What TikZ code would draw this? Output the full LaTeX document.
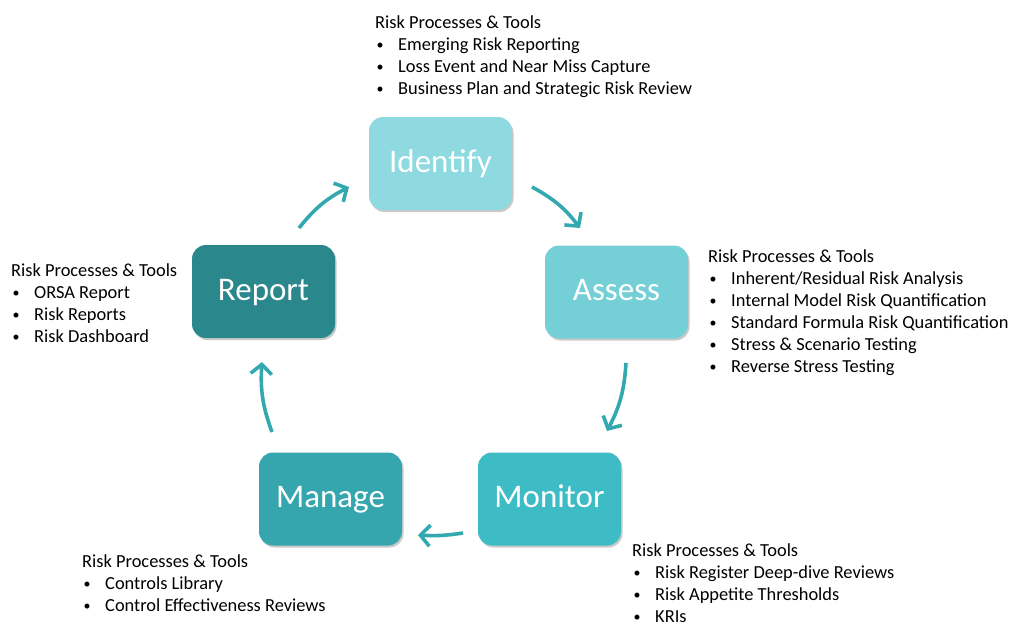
\documentclass[tikz,border=0pt]{standalone}
\usepackage{fontspec}
\setmainfont{Carlito}
\usetikzlibrary{arrows.meta,shadows,positioning}
\definecolor{cIdent}{HTML}{8FDAE0}
\definecolor{cAssess}{HTML}{74D0D6}
\definecolor{cMonitor}{HTML}{3DBCC6}
\definecolor{cManage}{HTML}{36A6AE}
\definecolor{cReport}{HTML}{2A878C}
\definecolor{cArrow}{HTML}{33A9AF}
\definecolor{cText}{HTML}{000000}
\newcommand{\bitem}[1]{\makebox[23pt][l]{\hspace{1.5pt}\raisebox{0.5pt}{\fontsize{14}{14}\selectfont •}}#1}
\tikzset{
  stagebox/.style={draw=none, rounded corners=14pt, minimum width=143pt, minimum height=93pt,
    text=white, font=\fontsize{33}{40}\selectfont, inner sep=0pt, text height=24pt, text depth=7pt,
    drop shadow={shadow xshift=1.5pt, shadow yshift=-2pt, opacity=0.35, fill=black!60}},
  infotext/.style={anchor=base west, inner sep=0pt, text=cText, font=\fontsize{18.4}{22}\selectfont},
  cyclearrow/.style={draw=cArrow, line width=3.6pt, bend left=12,
    -{Straight Barb[length=9.5pt, width=21pt, line width=3.6pt]}}
}
\begin{document}
\begin{tikzpicture}[x=1pt, y=-1pt]
\useasboundingbox (0,0) rectangle (1013,622);
% boxes
\node[stagebox, fill=cIdent]   (identify) at (440.5,163.5) {Identify};
\node[stagebox, fill=cAssess]  (assess)   at (616.5,292)   {Assess};
\node[stagebox, fill=cMonitor] (monitor)  at (549.5,499)   {Monitor};
\node[stagebox, fill=cManage]  (manage)   at (330.5,499)   {Manage};
\node[stagebox, fill=cReport]  (report)   at (263.5,291.5) {Report};
% arrow ends
\coordinate (a1s) at (299,228); \coordinate (a1e) at (349,187);
\coordinate (a2s) at (532,187); \coordinate (a2e) at (580,228);
\coordinate (a3s) at (626,363); \coordinate (a3e) at (607,431);
\coordinate (a4s) at (463,533); \coordinate (a4e) at (418,535);
\coordinate (a5s) at (272,432); \coordinate (a5e) at (262,362);
\draw[cyclearrow] (a1s) to (a1e);
\draw[cyclearrow] (a2s) to (a2e);
\draw[cyclearrow] (a3s) to (a3e);
\draw[cyclearrow, bend left=6] (a4s) to (a4e);
\draw[cyclearrow] (a5s) to (a5e);
% texts
\node[infotext] (tIdent) at (375,28) {\begin{tabular}[t]{@{}l@{}}
Risk Processes \& Tools\\
\bitem{Emerging Risk Reporting}\\
\bitem{Loss Event and Near Miss Capture}\\
\bitem{Business Plan and Strategic Risk Review}
\end{tabular}};
\node[infotext] (tAssess) at (708,262) {\begin{tabular}[t]{@{}l@{}}
Risk Processes \& Tools\\
\bitem{Inherent/Residual Risk Analysis}\\
\bitem{Internal Model Risk Quantification}\\
\bitem{Standard Formula Risk Quantification}\\
\bitem{Stress \& Scenario Testing}\\
\bitem{Reverse Stress Testing}
\end{tabular}};
\node[infotext] (tReport) at (11,276) {\begin{tabular}[t]{@{}l@{}}
Risk Processes \& Tools\\
\bitem{ORSA Report}\\
\bitem{Risk Reports}\\
\bitem{Risk Dashboard}
\end{tabular}};
\node[infotext] (tManage) at (82,567) {\begin{tabular}[t]{@{}l@{}}
Risk Processes \& Tools\\
\bitem{Controls Library}\\
\bitem{Control Effectiveness Reviews}
\end{tabular}};
\node[infotext] (tMonitor) at (632,556) {\begin{tabular}[t]{@{}l@{}}
Risk Processes \& Tools\\
\bitem{Risk Register Deep-dive Reviews}\\
\bitem{Risk Appetite Thresholds}\\
\bitem{KRIs}
\end{tabular}};
\end{tikzpicture}
\end{document}
